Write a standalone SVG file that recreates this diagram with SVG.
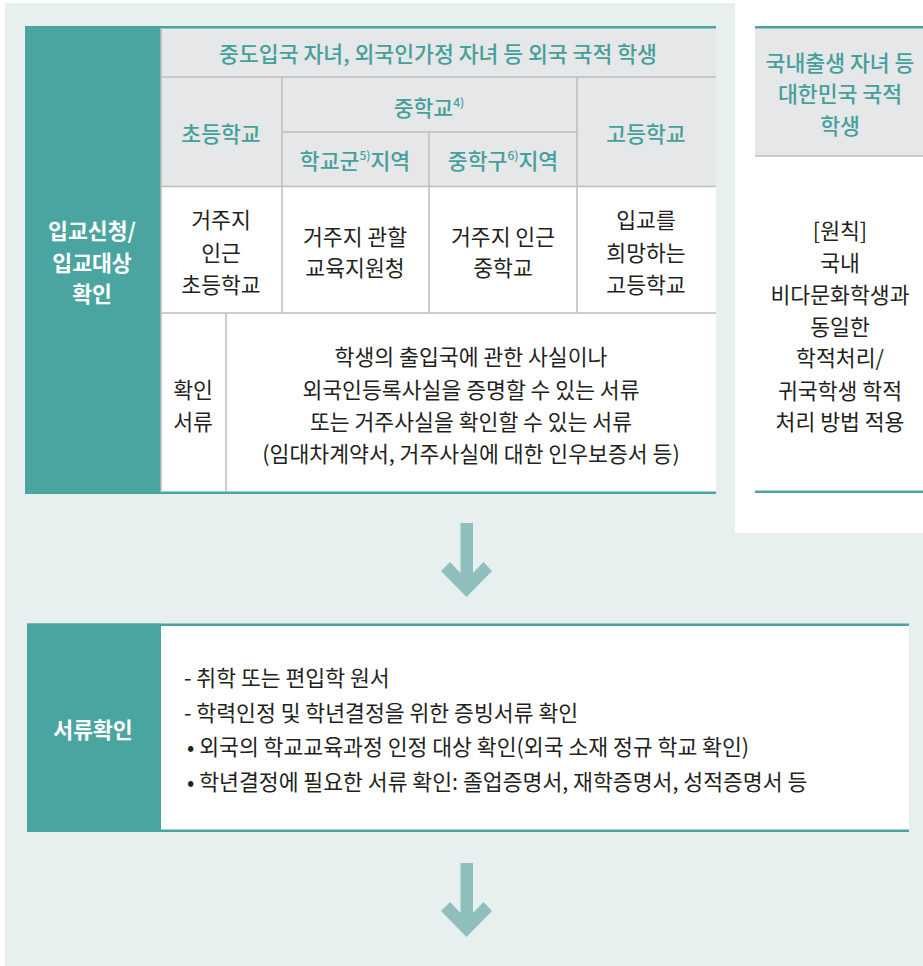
<svg xmlns="http://www.w3.org/2000/svg" width="923" height="966" viewBox="0 0 923 966">
<defs>
<style>
.t{font-family:"Noto Sans CJK KR","Noto Sans",sans-serif;font-size:21.6px;fill:#231f20;text-anchor:middle}
.h{font-family:"Noto Sans CJK KR","Noto Sans",sans-serif;font-size:21.6px;font-weight:500;fill:#45a09b;text-anchor:middle}
.w{font-family:"Noto Sans CJK KR","Noto Sans",sans-serif;font-size:21.6px;font-weight:bold;fill:#ffffff;text-anchor:middle}
.l{font-family:"Noto Sans CJK KR","Noto Sans",sans-serif;font-size:21.6px;fill:#231f20}
.sup{font-size:12px}
.g{stroke:#bdbdbd;stroke-width:1.5;fill:none}
.teal{fill:#4aa5a0}
.gray{fill:#e6e7e8}
.arrow{fill:#8fbfbc}
</style>
</defs>
<rect x="0" y="0" width="923" height="966" fill="#ffffff"/>
<path d="M5 3H735V533H923V966H5Z" fill="#e8f0ef"/>

<g id="node-entry">
<rect x="25" y="26" width="136" height="468" class="teal"/>
<rect x="161" y="28" width="555" height="159" class="gray"/>
<rect x="161" y="187" width="555" height="306" fill="#ffffff"/>
<rect x="161" y="26" width="555" height="2.5" class="teal"/>
<rect x="161" y="491.5" width="555" height="2.5" class="teal"/>
<path class="g" d="M161 28V492M161 77H716M161 186.5H716M161 313H716M282 77V313M282 132H577M429 132V313M577 77V313M226 313V492"/>
<text class="w" x="92" y="239">입교신청/</text>
<text class="w" x="92" y="271">입교대상</text>
<text class="w" x="92" y="302">확인</text>
<text class="h" x="438" y="62">중도입국 자녀, 외국인가정 자녀 등 외국 국적 학생</text>
<text class="h" x="221" y="142">초등학교</text>
<text class="h" x="429" y="116">중학교<tspan class="sup" dy="-9">4)</tspan></text>
<text class="h" x="355" y="169">학교군<tspan class="sup" dy="-9">5)</tspan><tspan dy="9">지역</tspan></text>
<text class="h" x="503" y="169">중학구<tspan class="sup" dy="-9">6)</tspan><tspan dy="9">지역</tspan></text>
<text class="h" x="646" y="142">고등학교</text>
<text class="t" x="221" y="228">거주지</text>
<text class="t" x="221" y="261">인근</text>
<text class="t" x="221" y="293">초등학교</text>
<text class="t" x="355" y="245">거주지 관할</text>
<text class="t" x="355" y="276">교육지원청</text>
<text class="t" x="503" y="245">거주지 인근</text>
<text class="t" x="503" y="276">중학교</text>
<text class="t" x="646" y="228">입교를</text>
<text class="t" x="646" y="261">희망하는</text>
<text class="t" x="646" y="293">고등학교</text>
<text class="t" x="193" y="398">확인</text>
<text class="t" x="193" y="430">서류</text>
<text class="t" x="471" y="365">학생의 출입국에 관한 사실이나</text>
<text class="t" x="471" y="398">외국인등록사실을 증명할 수 있는 서류</text>
<text class="t" x="471" y="430">또는 거주사실을 확인할 수 있는 서류</text>
<text class="t" x="471" y="462">(임대차계약서, 거주사실에 대한 인우보증서 등)</text>
</g>

<g id="node-domestic">
<rect x="755" y="28" width="168" height="128" class="gray"/>
<rect x="755" y="26" width="168" height="2.5" class="teal"/>
<rect x="755" y="490.5" width="168" height="2.5" class="teal"/>
<path class="g" d="M755 156H923"/>
<text class="h" x="840" y="71">국내출생 자녀 등</text>
<text class="h" x="840" y="102">대한민국 국적</text>
<text class="h" x="840" y="134">학생</text>
<text class="t" x="840" y="239">[원칙]</text>
<text class="t" x="840" y="271">국내</text>
<text class="t" x="840" y="303">비다문화학생과</text>
<text class="t" x="840" y="335">동일한</text>
<text class="t" x="840" y="366">학적처리/</text>
<text class="t" x="840" y="399">귀국학생 학적</text>
<text class="t" x="840" y="430">처리 방법 적용</text>
</g>

<g id="node-docs">
<rect x="27" y="623.5" width="134" height="208.5" class="teal"/>
<rect x="161" y="626" width="748" height="204" fill="#ffffff"/>
<rect x="27" y="623.5" width="882" height="2.5" class="teal"/>
<rect x="27" y="829.5" width="882" height="2.5" class="teal"/>
<text class="w" x="93" y="738">서류확인</text>
<text class="l" x="184" y="686">- 취학 또는 편입학 원서</text>
<text class="l" x="184" y="721">- 학력인정 및 학년결정을 위한 증빙서류 확인</text>
<text class="l" x="187" y="755">• 외국의 학교교육과정 인정 대상 확인(외국 소재 정규 학교 확인)</text>
<text class="l" x="187" y="790">• 학년결정에 필요한 서류 확인: 졸업증명서, 재학증명서, 성적증명서 등</text>
</g>

<g id="connectors">
<path class="arrow" d="M460.5 523H473V573L483.5 562L492 571L466.5 597L441 571L450 562L460.5 573Z"/>
<path class="arrow" d="M460.5 863H473V913L483.5 902L492 911L466.5 937L441 911L450 902L460.5 913Z"/>
</g>
</svg>
